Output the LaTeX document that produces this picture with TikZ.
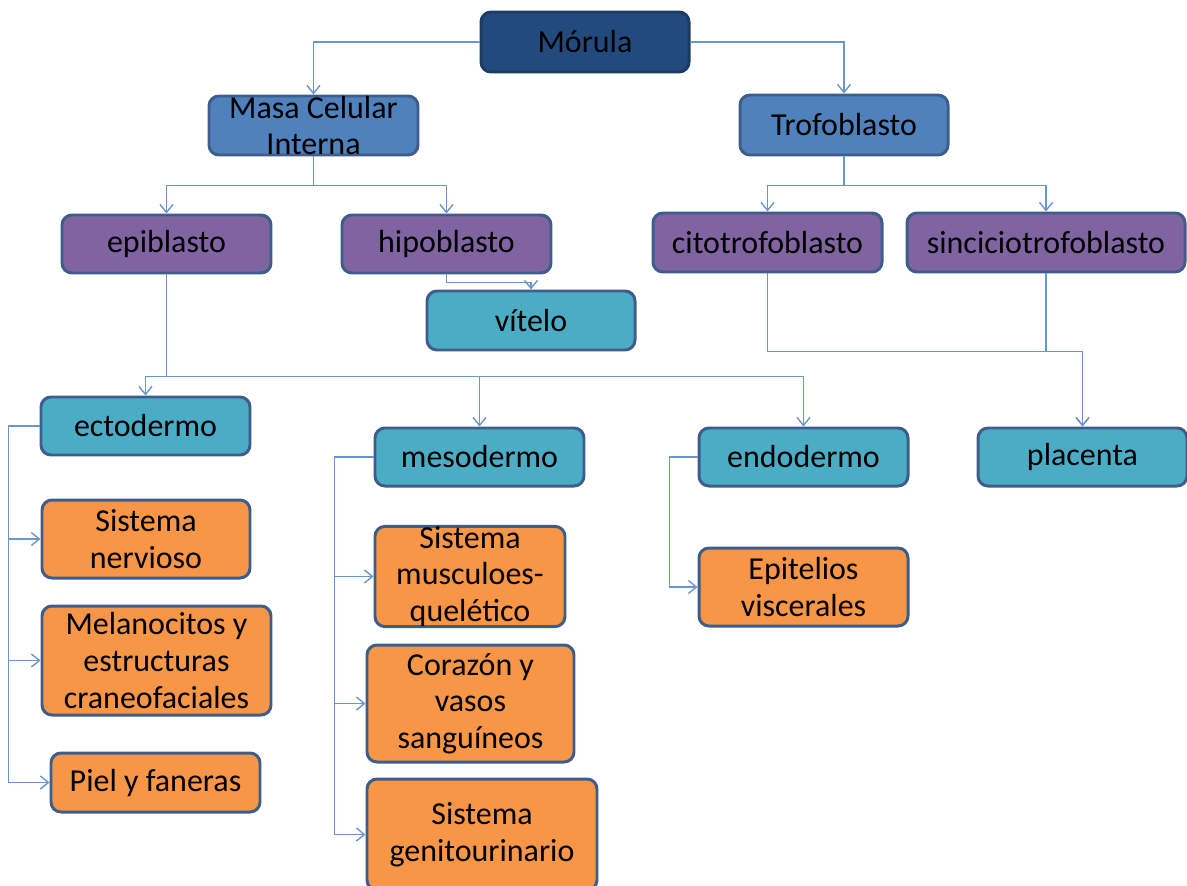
\documentclass[tikz,border=0pt]{standalone}
\usepackage{fontspec}
\setmainfont{Carlito}
\usepackage{xcolor}
\usetikzlibrary{positioning, arrows.meta}

\definecolor{morcol}{HTML}{234A7C}
\definecolor{blucol}{HTML}{4F81BD}
\definecolor{purcol}{HTML}{8064A2}
\definecolor{tealcol}{HTML}{4BACC6}
\definecolor{orgcol}{HTML}{F79646}
\definecolor{bordcol}{HTML}{3F5D8A}
\definecolor{linecol}{HTML}{6A96CC}

\begin{document}
\begin{tikzpicture}[x=0.02cm, y=-0.02cm, >={Straight Barb[length=1.6mm, width=2.6mm]},
    main/.style = {draw=bordcol, line width=1.7pt, rounded corners=2mm, inner sep=0pt, align=center, font=\fontsize{18.2}{20.8}\selectfont},
    sz/.style 2 args = {minimum width=#1*0.02cm, minimum height=#2*0.02cm},
    lvla/.style = {main, fill=blucol},
    lvlb/.style = {main, fill=purcol},
    lvlc/.style = {main, fill=tealcol},
    lvld/.style = {main, fill=orgcol},
    link/.style = {->, draw=linecol, line width=0.8pt}]

    \useasboundingbox (0,0) rectangle (1187,886);

    % top
    \node[main, fill=morcol, draw=morcol!80!black, sz={208}{60}] (morula) at (585,42) {Mórula};
    \node[lvla, sz={209}{59}] (mci) at (313.5,125.5) {Masa Celular\\Interna};
    \node[lvla, sz={208}{60}] (trofo) at (844,125) {Trofoblasto};

    \node[lvlb, sz={209}{58}] (epi) at (166.5,244) {epiblasto};
    \node[lvlb, sz={209}{58}] (hipo) at (446.5,244) {hipoblasto};
    \node[lvlb, sz={229}{59}] (cito) at (767.5,242.5) {citotrofoblasto};
    \node[lvlb, sz={278}{59}] (sinc) at (1046,242.5) {sinciciotrofoblasto};
    \node[lvlc, sz={208}{59}] (vitelo) at (531,320.5) {vítelo};

    % capas
    \node[lvlc, sz={209}{58}] (ecto) at (145.5,426) {ectodermo};
    \node[lvlc, sz={209}{58}] (meso) at (479.5,457) {mesodermo};
    \node[lvlc, sz={209}{58}] (endo) at (803.5,457) {endodermo};
    \node[lvlc, sz={209}{58}] (placenta) at (1082.5,457) {placenta};

    % derivados
    \node[lvld, sz={208}{78}] (nerv) at (146,539) {Sistema\\nervioso};
    \node[lvld, sz={229}{109}] (melan) at (156.5,660.5) {Melanocitos y\\estructuras\\craneofaciales};
    \node[lvld, sz={209}{59}] (piel) at (155.5,782.5) {Piel y faneras};
    \node[lvld, sz={190}{97}] (musc) at (470,576.5) {Sistema\\musculoes-\\quelético};
    \node[lvld, sz={207}{117}] (cora) at (470.5,703.5) {Corazón y\\vasos\\sanguíneos};
    \node[lvld, sz={230}{111}] (geni) at (482,834.5) {Sistema\\genitourinario};
    \node[lvld, sz={209}{78}] (epit) at (803.5,587) {Epitelios\\viscerales};

    \draw[link] (morula.west) -| (mci.north);
    \draw[link] (morula.east) -| (trofo.north);
    \draw[link] (mci.south) -- ++(0,29) -| (epi.north);
    \draw[link] (mci.south) -- ++(0,29) -| (hipo.north);
    \draw[link] (trofo.south) -- ++(0,29) -| (cito.north);
    \draw[link] (trofo.south) -- ++(0,29) -| (sinc.north);
    \draw[link] (hipo.south) -- ++(0,8) -| (vitelo.north);
    \draw[link] (epi.south) -- ++(0,102) -| (ecto.north);
    \draw[link] (epi.south) -- ++(0,102) -| (meso.north);
    \draw[link] (epi.south) -- ++(0,102) -| (endo.north);
    \draw[link] (cito.south) -- ++(0,78) -| (placenta.north);
    \draw[link] (sinc.south) -- ++(0,78) -| (placenta.north);

    \draw[link] (ecto.west) -- ++(-31,0) |- (nerv.west);
    \draw[link] (ecto.west) -- ++(-31,0) |- (melan.west);
    \draw[link] (ecto.west) -- ++(-31,0) |- (piel.west);
    \draw[link] (meso.west) -- ++(-39,0) |- (musc.west);
    \draw[link] (meso.west) -- ++(-39,0) |- (cora.west);
    \draw[link] (meso.west) -- ++(-39,0) |- (geni.west);
    \draw[link] (endo.west) -- ++(-28,0) |- (epit.west);
\end{tikzpicture}
\end{document}
